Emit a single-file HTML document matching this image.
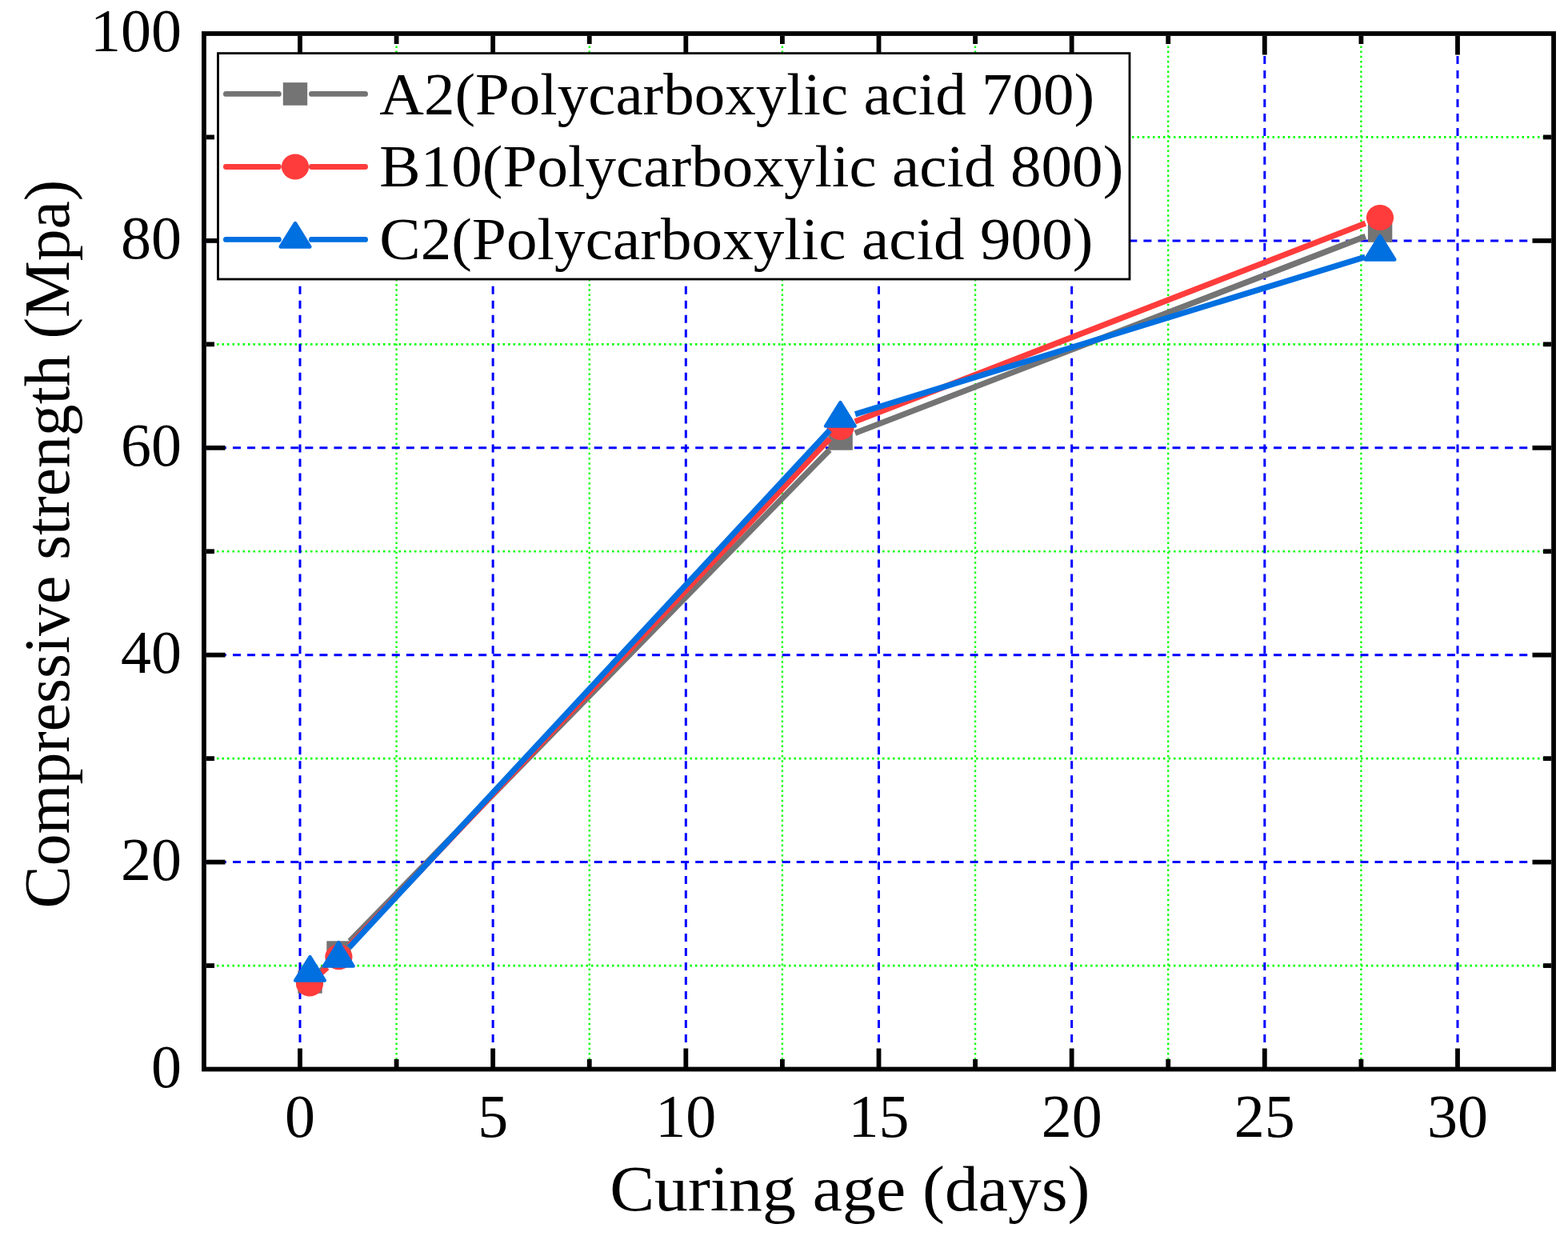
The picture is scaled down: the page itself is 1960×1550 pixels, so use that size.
<!DOCTYPE html>
<html><head><meta charset="utf-8"><title>Compressive strength vs curing age</title>
<style>html,body{margin:0;padding:0;background:#fff;}body{width:1960px;height:1550px;overflow:hidden;}svg{display:block;}</style>
</head><body>
<svg width="1960" height="1550" viewBox="0 0 1960 1550">
<rect x="0" y="0" width="1960" height="1550" fill="#fff"/>
<defs><clipPath id="pa"><rect x="257" y="44" width="1683" height="1291"/></clipPath></defs>
<g stroke="#00FF00" fill="none" clip-path="url(#pa)">
<line x1="495.58" y1="45" x2="495.58" y2="1334" stroke-width="2.3" stroke-dasharray="2.5 3.7"/>
<line x1="736.75" y1="45" x2="736.75" y2="1334" stroke-width="2.3" stroke-dasharray="2.5 3.7"/>
<line x1="977.91" y1="45" x2="977.91" y2="1334" stroke-width="2.3" stroke-dasharray="2.5 3.7"/>
<line x1="1219.08" y1="45" x2="1219.08" y2="1334" stroke-width="2.3" stroke-dasharray="2.5 3.7"/>
<line x1="1460.24" y1="45" x2="1460.24" y2="1334" stroke-width="2.3" stroke-dasharray="2.5 3.7"/>
<line x1="1701.41" y1="45" x2="1701.41" y2="1334" stroke-width="2.3" stroke-dasharray="2.5 3.7"/>
<line x1="258" y1="1207.05" x2="1939" y2="1207.05" stroke-width="2.7" stroke-dasharray="2.5 4.0"/>
<line x1="258" y1="948.15" x2="1939" y2="948.15" stroke-width="2.7" stroke-dasharray="2.5 4.0"/>
<line x1="258" y1="689.25" x2="1939" y2="689.25" stroke-width="2.7" stroke-dasharray="2.5 4.0"/>
<line x1="258" y1="430.35" x2="1939" y2="430.35" stroke-width="2.7" stroke-dasharray="2.5 4.0"/>
<line x1="258" y1="171.45" x2="1939" y2="171.45" stroke-width="2.7" stroke-dasharray="2.5 4.0"/>
</g>
<g stroke="#0000FF" stroke-width="3.0" fill="none" clip-path="url(#pa)">
<line x1="375.00" y1="34" x2="375.00" y2="1334" stroke-dasharray="10 7.985"/>
<line x1="616.16" y1="34" x2="616.16" y2="1334" stroke-dasharray="10 7.985"/>
<line x1="857.33" y1="34" x2="857.33" y2="1334" stroke-dasharray="10 7.985"/>
<line x1="1098.49" y1="34" x2="1098.49" y2="1334" stroke-dasharray="10 7.985"/>
<line x1="1339.66" y1="34" x2="1339.66" y2="1334" stroke-dasharray="10 7.985"/>
<line x1="1580.82" y1="34" x2="1580.82" y2="1334" stroke-dasharray="10 7.985"/>
<line x1="1821.99" y1="34" x2="1821.99" y2="1334" stroke-dasharray="10 7.985"/>
<line x1="254.86" y1="1077.60" x2="1939" y2="1077.60" stroke-dasharray="10 8.07"/>
<line x1="254.86" y1="818.70" x2="1939" y2="818.70" stroke-dasharray="10 8.07"/>
<line x1="254.86" y1="559.80" x2="1939" y2="559.80" stroke-dasharray="10 8.07"/>
<line x1="254.86" y1="300.90" x2="1939" y2="300.90" stroke-dasharray="10 8.07"/>
</g>
<g stroke="#000" stroke-width="5.8" fill="none">
<line x1="375.00" y1="1334" x2="375.00" y2="1310.5"/>
<line x1="375.00" y1="45" x2="375.00" y2="68.5"/>
<line x1="616.16" y1="1334" x2="616.16" y2="1310.5"/>
<line x1="616.16" y1="45" x2="616.16" y2="68.5"/>
<line x1="857.33" y1="1334" x2="857.33" y2="1310.5"/>
<line x1="857.33" y1="45" x2="857.33" y2="68.5"/>
<line x1="1098.49" y1="1334" x2="1098.49" y2="1310.5"/>
<line x1="1098.49" y1="45" x2="1098.49" y2="68.5"/>
<line x1="1339.66" y1="1334" x2="1339.66" y2="1310.5"/>
<line x1="1339.66" y1="45" x2="1339.66" y2="68.5"/>
<line x1="1580.82" y1="1334" x2="1580.82" y2="1310.5"/>
<line x1="1580.82" y1="45" x2="1580.82" y2="68.5"/>
<line x1="1821.99" y1="1334" x2="1821.99" y2="1310.5"/>
<line x1="1821.99" y1="45" x2="1821.99" y2="68.5"/>
<line x1="495.58" y1="1334" x2="495.58" y2="1324"/>
<line x1="495.58" y1="45" x2="495.58" y2="55"/>
<line x1="736.75" y1="1334" x2="736.75" y2="1324"/>
<line x1="736.75" y1="45" x2="736.75" y2="55"/>
<line x1="977.91" y1="1334" x2="977.91" y2="1324"/>
<line x1="977.91" y1="45" x2="977.91" y2="55"/>
<line x1="1219.08" y1="1334" x2="1219.08" y2="1324"/>
<line x1="1219.08" y1="45" x2="1219.08" y2="55"/>
<line x1="1460.24" y1="1334" x2="1460.24" y2="1324"/>
<line x1="1460.24" y1="45" x2="1460.24" y2="55"/>
<line x1="1701.41" y1="1334" x2="1701.41" y2="1324"/>
<line x1="1701.41" y1="45" x2="1701.41" y2="55"/>
<line x1="258" y1="1077.60" x2="281.5" y2="1077.60"/>
<line x1="1939" y1="1077.60" x2="1915.5" y2="1077.60"/>
<line x1="258" y1="818.70" x2="281.5" y2="818.70"/>
<line x1="1939" y1="818.70" x2="1915.5" y2="818.70"/>
<line x1="258" y1="559.80" x2="281.5" y2="559.80"/>
<line x1="1939" y1="559.80" x2="1915.5" y2="559.80"/>
<line x1="258" y1="300.90" x2="281.5" y2="300.90"/>
<line x1="1939" y1="300.90" x2="1915.5" y2="300.90"/>
<line x1="258" y1="1207.05" x2="268" y2="1207.05"/>
<line x1="1939" y1="1207.05" x2="1929" y2="1207.05"/>
<line x1="258" y1="948.15" x2="268" y2="948.15"/>
<line x1="1939" y1="948.15" x2="1929" y2="948.15"/>
<line x1="258" y1="689.25" x2="268" y2="689.25"/>
<line x1="1939" y1="689.25" x2="1929" y2="689.25"/>
<line x1="258" y1="430.35" x2="268" y2="430.35"/>
<line x1="1939" y1="430.35" x2="1929" y2="430.35"/>
<line x1="258" y1="171.45" x2="268" y2="171.45"/>
<line x1="1939" y1="171.45" x2="1929" y2="171.45"/>
</g>
<g>
<line x1="401.14" y1="1213.46" x2="409.86" y2="1204.54" stroke="#747474" stroke-width="7.3" stroke-linecap="butt"/>
<line x1="437.12" y1="1176.65" x2="1036.98" y2="562.35" stroke="#747474" stroke-width="7.3" stroke-linecap="butt"/>
<line x1="1068.80" y1="541.39" x2="1706.90" y2="295.51" stroke="#747474" stroke-width="7.3" stroke-linecap="butt"/>
<rect x="372.30" y="1213.10" width="30.40" height="28.60" fill="#747474"/>
<rect x="408.30" y="1176.30" width="30.40" height="28.60" fill="#747474"/>
<rect x="1035.40" y="534.10" width="30.40" height="28.60" fill="#747474"/>
<rect x="1709.90" y="274.20" width="30.40" height="28.60" fill="#747474"/>
</g>
<g>
<line x1="401.39" y1="1216.34" x2="409.01" y2="1209.36" stroke="#FF3C3C" stroke-width="7.3" stroke-linecap="butt"/>
<line x1="436.81" y1="1182.04" x2="1037.19" y2="548.16" stroke="#FF3C3C" stroke-width="7.3" stroke-linecap="butt"/>
<line x1="1068.78" y1="526.94" x2="1706.82" y2="279.06" stroke="#FF3C3C" stroke-width="7.3" stroke-linecap="butt"/>
<ellipse cx="387.00" cy="1229.50" rx="17.1" ry="16.0" fill="#FF3C3C"/>
<ellipse cx="423.40" cy="1196.20" rx="17.1" ry="16.0" fill="#FF3C3C"/>
<ellipse cx="1050.60" cy="534.00" rx="17.1" ry="16.0" fill="#FF3C3C"/>
<ellipse cx="1725.00" cy="272.00" rx="17.1" ry="16.0" fill="#FF3C3C"/>
</g>
<g>
<line x1="436.57" y1="1184.21" x2="1037.13" y2="537.79" stroke="#006FE0" stroke-width="7.3" stroke-linecap="butt"/>
<line x1="1069.03" y1="517.75" x2="1706.37" y2="321.15" stroke="#006FE0" stroke-width="7.3" stroke-linecap="butt"/>
<polygon points="387.50,1196.10 369.15,1225.60 405.85,1225.60" fill="#006FE0" stroke="#006FE0" stroke-width="4.4" stroke-linejoin="round"/>
<polygon points="423.30,1178.10 404.95,1207.60 441.65,1207.60" fill="#006FE0" stroke="#006FE0" stroke-width="4.4" stroke-linejoin="round"/>
<polygon points="1050.40,503.10 1032.05,532.60 1068.75,532.60" fill="#006FE0" stroke="#006FE0" stroke-width="4.4" stroke-linejoin="round"/>
<polygon points="1725.00,295.00 1706.65,324.50 1743.35,324.50" fill="#006FE0" stroke="#006FE0" stroke-width="4.4" stroke-linejoin="round"/>
</g>
<rect x="254.95" y="42.00" width="1687.10" height="1294.50" fill="none" stroke="#000" stroke-width="5.8"/>
<rect x="272.5" y="66.6" width="1139.5" height="282.4" fill="#fff" stroke="#000" stroke-width="2.8"/>
<line x1="282.4" y1="117.45" x2="348.4" y2="117.45" stroke="#747474" stroke-width="6.8" stroke-linecap="round"/>
<line x1="389.4" y1="117.45" x2="456.6" y2="117.45" stroke="#747474" stroke-width="6.8" stroke-linecap="round"/>
<rect x="353.80" y="103.15" width="30.40" height="28.60" fill="#747474"/>
<text transform="translate(474.3,143.1) scale(1,0.96)" x="0" y="0" style="font-family:'Liberation Serif','Times New Roman',serif;font-size:77px;letter-spacing:0px" fill="#000">A2(Polycarboxylic acid 700)</text>
<line x1="282.4" y1="208.5" x2="348.4" y2="208.5" stroke="#FF3C3C" stroke-width="6.8" stroke-linecap="round"/>
<line x1="389.4" y1="208.5" x2="456.6" y2="208.5" stroke="#FF3C3C" stroke-width="6.8" stroke-linecap="round"/>
<ellipse cx="369.00" cy="208.50" rx="17.1" ry="16.0" fill="#FF3C3C"/>
<text transform="translate(474.3,233.1) scale(1,0.96)" x="0" y="0" style="font-family:'Liberation Serif','Times New Roman',serif;font-size:77px;letter-spacing:0.075px" fill="#000">B10(Polycarboxylic acid 800)</text>
<line x1="282.4" y1="299.4" x2="348.4" y2="299.4" stroke="#006FE0" stroke-width="6.8" stroke-linecap="round"/>
<line x1="389.4" y1="299.4" x2="456.6" y2="299.4" stroke="#006FE0" stroke-width="6.8" stroke-linecap="round"/>
<polygon points="369.00,279.00 350.65,308.50 387.35,308.50" fill="#006FE0" stroke="#006FE0" stroke-width="4.4" stroke-linejoin="round"/>
<text transform="translate(474.3,323.9) scale(1,0.96)" x="0" y="0" style="font-family:'Liberation Serif','Times New Roman',serif;font-size:77px;letter-spacing:0.1px" fill="#000">C2(Polycarboxylic acid 900)</text>
<text x="375.00" y="1421.1" text-anchor="middle" style="font-family:'Liberation Serif','Times New Roman',serif;font-size:76px">0</text>
<text x="616.16" y="1421.1" text-anchor="middle" style="font-family:'Liberation Serif','Times New Roman',serif;font-size:76px">5</text>
<text x="857.33" y="1421.1" text-anchor="middle" style="font-family:'Liberation Serif','Times New Roman',serif;font-size:76px">10</text>
<text x="1098.49" y="1421.1" text-anchor="middle" style="font-family:'Liberation Serif','Times New Roman',serif;font-size:76px">15</text>
<text x="1339.66" y="1421.1" text-anchor="middle" style="font-family:'Liberation Serif','Times New Roman',serif;font-size:76px">20</text>
<text x="1580.82" y="1421.1" text-anchor="middle" style="font-family:'Liberation Serif','Times New Roman',serif;font-size:76px">25</text>
<text x="1821.99" y="1421.1" text-anchor="middle" style="font-family:'Liberation Serif','Times New Roman',serif;font-size:76px">30</text>
<text x="226.9" y="1358.90" text-anchor="end" style="font-family:'Liberation Serif','Times New Roman',serif;font-size:76px">0</text>
<text x="226.9" y="1100.00" text-anchor="end" style="font-family:'Liberation Serif','Times New Roman',serif;font-size:76px">20</text>
<text x="226.9" y="841.10" text-anchor="end" style="font-family:'Liberation Serif','Times New Roman',serif;font-size:76px">40</text>
<text x="226.9" y="582.20" text-anchor="end" style="font-family:'Liberation Serif','Times New Roman',serif;font-size:76px">60</text>
<text x="226.9" y="323.30" text-anchor="end" style="font-family:'Liberation Serif','Times New Roman',serif;font-size:76px">80</text>
<text x="226.9" y="64.40" text-anchor="end" style="font-family:'Liberation Serif','Times New Roman',serif;font-size:76px">100</text>
<text transform="translate(1062.3,1512.7) scale(1,0.955)" x="0" y="0" text-anchor="middle" style="font-family:'Liberation Serif','Times New Roman',serif;font-size:83.8px">Curing age (days)</text>
<text transform="translate(86.1,680) rotate(-90)" x="0" y="0" text-anchor="middle" style="font-family:'Liberation Serif','Times New Roman',serif;font-size:79.6px">Compressive strength (Mpa)</text>
</svg>
</body></html>
